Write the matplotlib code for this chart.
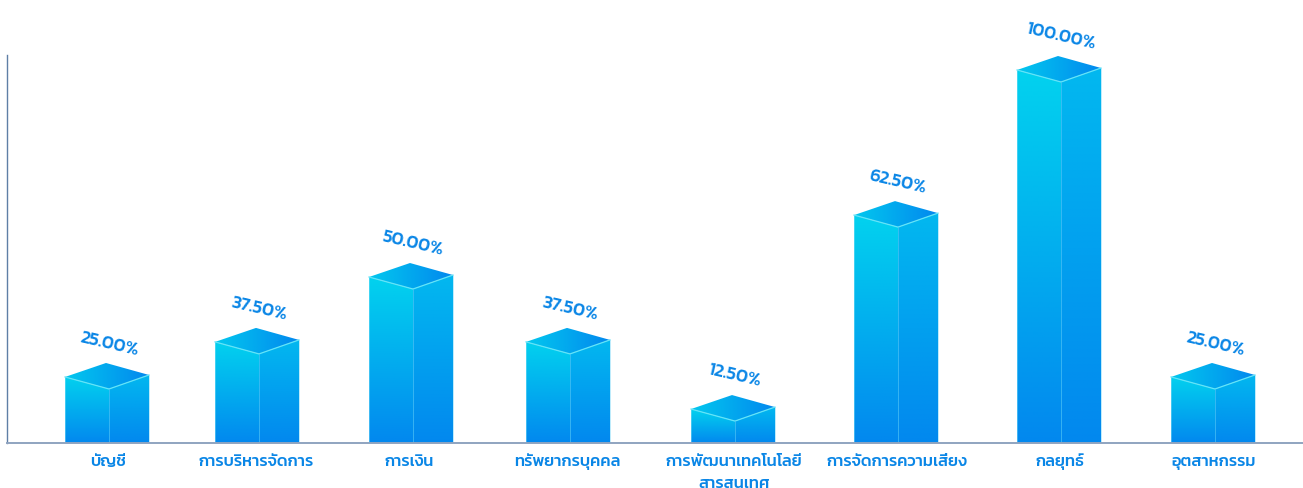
import numpy as np
import matplotlib
matplotlib.use('Agg')
import matplotlib.pyplot as plt
from matplotlib import font_manager as fm
from matplotlib.colors import LinearSegmentedColormap
from matplotlib.patches import Polygon

# data
categories = ["บัญชี", "การบริหารจัดการ", "การเงิน", "ทรัพยากรบุคคล",
              "การพัฒนาเทคโนโลยี\nสารสนเทศ", "การจัดการความเสี่ยง", "กลยุทธ์", "อุตสาหกรรม"]
value_labels = ["25.00%", "37.50%", "50.00%", "37.50%", "12.50%", "62.50%", "100.00%", "25.00%"]
bar_heights = [17.7, 27.1, 44.5, 27.1, 9.1, 61.1, 100.0, 17.7]

# layout (pixels of the 1303x488 canvas)
slot_x = [109, 259, 413, 570, 735, 898, 1061, 1215]
tick_x = [108, 256, 409, 567, 734, 897, 1060, 1214]
W, H = 1303, 488
AX_L, AX_T, AX_B = 7, 55, 443
PX_PER_UNIT = 3.73
BLUE = '#0a86e6'


def thai_font(size):
    for f in fm.fontManager.ttflist:
        if f.name == 'Kanit' and f.style == 'normal' and str(f.weight) == '500':
            return fm.FontProperties(fname=f.fname, size=size)
    return fm.FontProperties(family=['Kanit', 'Noto Sans Thai', 'DejaVu Sans'], size=size)


fig = plt.figure(figsize=(W / 100, H / 100), dpi=100)
ax = fig.add_axes([AX_L / W, 1 - AX_B / H, 1 - AX_L / W, (AX_B - AX_T) / H])
ax.set_xlim(AX_L, W)
ax.set_ylim(0, (AX_B - AX_T) / PX_PER_UNIT)

left_cm = LinearSegmentedColormap.from_list('l', ['#02d2ef', '#0288ee'])
right_cm = LinearSegmentedColormap.from_list('r', ['#02b8f0', '#0288ee'])
top_cm = LinearSegmentedColormap.from_list('t', ['#02c8ee', '#0288ee'])
vgrad = np.linspace(0, 1, 256).reshape(-1, 1)
hgrad = np.linspace(0, 1, 256).reshape(1, -1)
u = 1 / PX_PER_UNIT


def face(verts, cmap, grad):
    xs = [v[0] for v in verts]
    ys = [v[1] for v in verts]
    im = ax.imshow(grad, cmap=cmap, aspect='auto', interpolation='bilinear', vmin=0, vmax=1,
                   origin='upper', extent=(min(xs), max(xs), min(ys), max(ys)), zorder=2)
    poly = Polygon(verts, closed=True, fc='none', ec='none', transform=ax.transData)
    ax.add_patch(poly)
    im.set_clip_path(poly)


for cx, h, txt in zip(slot_x, bar_heights, value_labels):
    fl = (cx - 44, h)
    ff = (cx, h - 12 * u)
    fr = (cx + 40, h + 2 * u)
    bk = (cx - 3, h + 14 * u)
    face([fl, ff, (cx, 0), (cx - 44, 0)], left_cm, vgrad)
    face([ff, fr, (cx + 40, 0), (cx, 0)], right_cm, vgrad)
    face([fl, bk, fr, ff], top_cm, hgrad)
    ax.plot([fl[0], ff[0], fr[0]], [fl[1], ff[1], fr[1]], color='#63e4f8', lw=0.9, zorder=3,
            solid_joinstyle='miter')
    ax.plot([cx, cx], [0, ff[1]], color='#4fc4f4', lw=0.6, alpha=0.8, zorder=3)
    ax.plot([fl[0], fl[0]], [0, fl[1]], color='#7fe0f8', lw=0.6, alpha=0.6, zorder=3)
    ax.plot([fr[0], fr[0]], [0, fr[1]], color='#7fd8f8', lw=0.6, alpha=0.6, zorder=3)
    ax.text(cx, h + 33 * u, txt, rotation=-13, rotation_mode='anchor', ha='center', va='center',
            color=BLUE, font=thai_font(13.2), clip_on=False, zorder=4)

ax.set_xticks(tick_x)
ax.set_xticklabels([])
for x, cat in zip(tick_x, categories):
    for i, line in enumerate(cat.split('\n')):
        ax.text(x, -(23 + 22 * i) * u, line, ha='center', va='baseline', color=BLUE,
                font=thai_font(11.8), clip_on=False)
ax.tick_params(axis='x', length=0)
ax.set_yticks([])
for s in ('top', 'right'):
    ax.spines[s].set_visible(False)
ax.spines['left'].set_color('#5f7fa6')
ax.spines['left'].set_linewidth(1.0)
ax.spines['bottom'].set_color('#8fa4c0')
ax.spines['bottom'].set_linewidth(1.4)
ax.spines['bottom'].set_zorder(5)

fig.savefig('out.png', dpi=100)
